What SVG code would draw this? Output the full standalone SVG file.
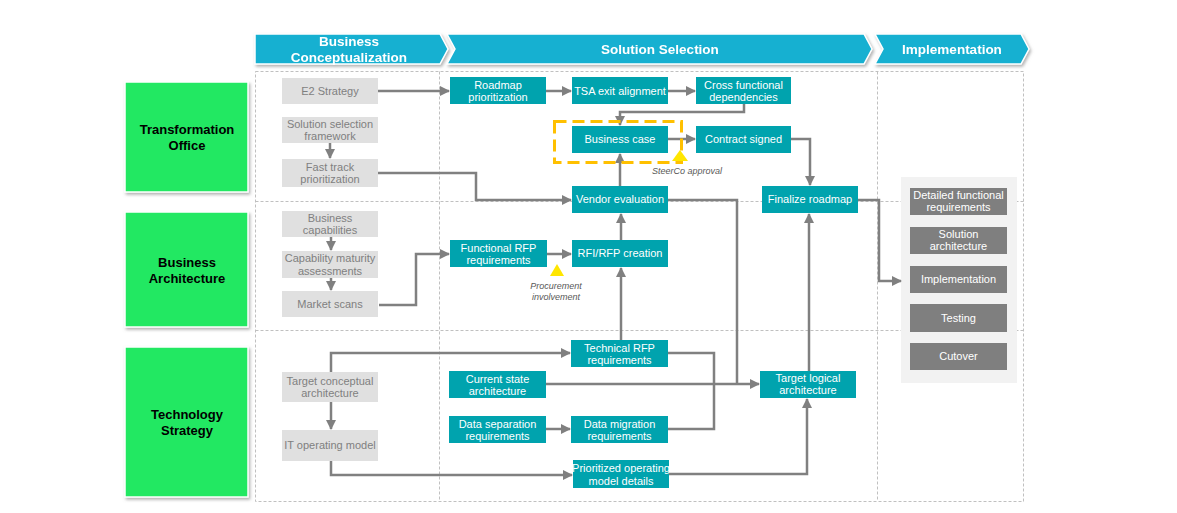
<svg xmlns="http://www.w3.org/2000/svg" width="1177" height="513" viewBox="0 0 1177 513">
<style>
text{font-family:"Liberation Sans",Arial,sans-serif;text-anchor:middle}
.hdr{fill:#19B0D1;stroke:#fff;stroke-width:1.5}
.ht{fill:#fff;font-size:13.5px;font-weight:bold}
.grn{fill:#22E862;stroke:#fff;stroke-width:1.5}
.gt{fill:#000;font-size:13px;font-weight:bold}
.gray{fill:#E0E0E0}
.grt{fill:#7F7F7F;font-size:11px}
.teal{fill:#00A3AE}
.tt{fill:#fff;font-size:11px}
.dark{fill:#7F7F7F}
.grid{fill:none;stroke:#C0C0C0;stroke-width:1;stroke-dasharray:3 2}
.c{fill:none;stroke:#808080;stroke-width:2.5}
.ca{fill:none;stroke:#808080;stroke-width:2.5;marker-end:url(#ah)}
.note{fill:#595959;font-size:9px;font-style:italic}
</style>
<defs>
<marker id="ah" viewBox="0 0 10 10" refX="9" refY="5" markerWidth="11" markerHeight="10" markerUnits="userSpaceOnUse" orient="auto"><path d="M0,0L10,5L0,10z" fill="#808080"/></marker>
<filter id="sh" x="-10%" y="-10%" width="130%" height="140%"><feDropShadow dx="1.5" dy="2" stdDeviation="1.5" flood-color="#808080" flood-opacity="0.6"/></filter>
</defs>
<rect width="1177" height="513" fill="#fff"/>

<g id="grid">
<rect class="grid" x="255.5" y="71.5" width="768" height="430"/>
<line class="grid" x1="439.5" y1="71.5" x2="439.5" y2="501.5"/>
<line class="grid" x1="877.5" y1="71.5" x2="877.5" y2="501.5"/>
<line class="grid" x1="255.5" y1="201.5" x2="1023.5" y2="201.5"/>
<line class="grid" x1="255.5" y1="330.5" x2="1023.5" y2="330.5"/>
</g>

<g id="header" filter="url(#sh)">
<g id="phase-bc"><path class="hdr" d="M255,34H440L448,49L440,64H255Z"/><text class="ht" x="349" y="46">Business</text><text class="ht" x="349" y="62">Conceptualization</text></g>
<g id="phase-ss"><path class="hdr" d="M447,34H864L872,49L864,64H447L455,49Z"/><text class="ht" x="660" y="54">Solution  Selection</text></g>
<g id="phase-impl"><path class="hdr" d="M875,34H1021L1029,49L1021,64H875L883,49Z"/><text class="ht" x="952" y="54">Implementation</text></g>
</g>

<g id="lanes">
<g id="lane-to"><rect class="grn" x="125" y="82" width="123" height="110" filter="url(#sh)"/><text class="gt" x="187" y="133.5">Transformation</text><text class="gt" x="187" y="149.5">Office</text></g>
<g id="lane-ba"><rect class="grn" x="125" y="212" width="123" height="115" filter="url(#sh)"/><text class="gt" x="187" y="266.5">Business</text><text class="gt" x="187" y="282.5">Architecture</text></g>
<g id="lane-ts"><rect class="grn" x="125" y="347" width="123" height="150" filter="url(#sh)"/><text class="gt" x="187" y="418.5">Technology</text><text class="gt" x="187" y="434.5">Strategy</text></g>
</g>

<g id="implementation-panel"><rect x="901" y="177" width="116" height="206" fill="#F2F2F2"/></g>

<g id="connectors">
<path class="ca" d="M378,91H449"/>
<path class="ca" d="M330,143V158"/>
<path class="ca" d="M378,173H476V200H571"/>
<path class="ca" d="M546,91H571"/>
<path class="ca" d="M668,91H695"/>
<path class="ca" d="M744,104V112H620V125"/>
<path class="ca" d="M668,139H695"/>
<path class="ca" d="M791,139H810V185"/>
<path class="ca" d="M620,186V154"/>
<path class="c" d="M668,200H737V384"/>
<path class="ca" d="M858,200H879V281H901"/>
<path class="ca" d="M331,237V250"/>
<path class="ca" d="M331,278V290"/>
<path class="ca" d="M379,305H416V254H449"/>
<path class="ca" d="M547,254H571"/>
<path class="ca" d="M621,240V214"/>
<path class="ca" d="M621,340V268"/>
<path class="ca" d="M331,372V353H570"/>
<path class="ca" d="M331,402V429"/>
<path class="ca" d="M546,384H759"/>
<path class="ca" d="M546,429H570"/>
<path class="c" d="M668,429H714V353H668"/>
<path class="ca" d="M331,461V475H572"/>
<path class="ca" d="M669,474H807V399"/>
<path class="ca" d="M809,371V214"/>
</g>

<g id="n-e2"><rect class="gray" x="282" y="78" width="96" height="26"/><text class="grt" x="330" y="95">E2 Strategy</text></g>
<g id="n-ssf"><rect class="gray" x="282" y="117" width="96" height="26"/><text class="grt" x="330" y="128">Solution selection</text><text class="grt" x="330" y="140">framework</text></g>
<g id="n-ftp"><rect class="gray" x="282" y="159" width="96" height="28"/><text class="grt" x="330" y="171">Fast track</text><text class="grt" x="330" y="183">prioritization</text></g>
<g id="n-bcap"><rect class="gray" x="282" y="211" width="96" height="26"/><text class="grt" x="330" y="222">Business</text><text class="grt" x="330" y="234">capabilities</text></g>
<g id="n-cma"><rect class="gray" x="282" y="251" width="96" height="27"/><text class="grt" x="330" y="262">Capability maturity</text><text class="grt" x="330" y="275">assessments</text></g>
<g id="n-ms"><rect class="gray" x="282" y="291" width="96" height="26"/><text class="grt" x="330" y="308">Market scans</text></g>
<g id="n-tca"><rect class="gray" x="282" y="372" width="96" height="30"/><text class="grt" x="330" y="385">Target conceptual</text><text class="grt" x="330" y="397">architecture</text></g>
<g id="n-itom"><rect class="gray" x="282" y="430" width="96" height="31"/><text class="grt" x="330" y="449">IT operating model</text></g>

<g id="n-rp"><rect class="teal" x="450" y="77" width="96" height="27"/><text class="tt" x="498" y="89">Roadmap</text><text class="tt" x="498" y="101">prioritization</text></g>
<g id="n-tsa"><rect class="teal" x="572" y="77" width="96" height="27"/><text class="tt" x="620" y="95">TSA exit alignment</text></g>
<g id="n-cfd"><rect class="teal" x="696" y="77" width="95" height="27"/><text class="tt" x="743.5" y="89">Cross functional</text><text class="tt" x="743.5" y="101">dependencies</text></g>
<g id="n-bc"><rect class="teal" x="572" y="126" width="96" height="27"/><text class="tt" x="620" y="143">Business case</text></g>
<g id="n-cs"><rect class="teal" x="696" y="126" width="95" height="27"/><text class="tt" x="743.5" y="143">Contract signed</text></g>
<g id="n-ve"><rect class="teal" x="572" y="186" width="96" height="27"/><text class="tt" x="620" y="203">Vendor evaluation</text></g>
<g id="n-fr"><rect class="teal" x="762" y="186" width="96" height="27"/><text class="tt" x="810" y="203">Finalize roadmap</text></g>
<g id="n-frfp"><rect class="teal" x="450" y="240" width="97" height="27"/><text class="tt" x="498.5" y="252">Functional RFP</text><text class="tt" x="498.5" y="264">requirements</text></g>
<g id="n-rfi"><rect class="teal" x="572" y="240" width="96" height="27"/><text class="tt" x="620" y="257">RFI/RFP creation</text></g>
<g id="n-trfp"><rect class="teal" x="571" y="340" width="97" height="27"/><text class="tt" x="619.5" y="352">Technical RFP</text><text class="tt" x="619.5" y="364">requirements</text></g>
<g id="n-csa"><rect class="teal" x="449" y="371" width="97" height="27"/><text class="tt" x="497.5" y="383">Current state</text><text class="tt" x="497.5" y="395">architecture</text></g>
<g id="n-tla"><rect class="teal" x="760" y="371" width="96" height="27"/><text class="tt" x="808" y="382">Target logical</text><text class="tt" x="808" y="394">architecture</text></g>
<g id="n-dsr"><rect class="teal" x="449" y="416" width="97" height="27"/><text class="tt" x="497.5" y="428">Data separation</text><text class="tt" x="497.5" y="440">requirements</text></g>
<g id="n-dmr"><rect class="teal" x="571" y="416" width="97" height="27"/><text class="tt" x="619.5" y="428">Data migration</text><text class="tt" x="619.5" y="440">requirements</text></g>
<g id="n-pomd"><rect class="teal" x="573" y="460" width="96" height="28"/><text class="tt" x="621" y="472">Prioritized operating</text><text class="tt" x="621" y="485">model details</text></g>

<g id="n-dfr"><rect class="dark" x="910" y="188" width="97" height="27"/><text class="tt" x="958.5" y="199">Detailed functional</text><text class="tt" x="958.5" y="211">requirements</text></g>
<g id="n-sa"><rect class="dark" x="910" y="227" width="97" height="27"/><text class="tt" x="958.5" y="238">Solution</text><text class="tt" x="958.5" y="250">architecture</text></g>
<g id="n-impl"><rect class="dark" x="910" y="266" width="97" height="27"/><text class="tt" x="958.5" y="283">Implementation</text></g>
<g id="n-test"><rect class="dark" x="910" y="304" width="97" height="28"/><text class="tt" x="958.5" y="322">Testing</text></g>
<g id="n-cut"><rect class="dark" x="910" y="343" width="97" height="27"/><text class="tt" x="958.5" y="360">Cutover</text></g>

<g id="annotations">
<rect x="554.5" y="121.5" width="127" height="41" fill="none" stroke="#FFC000" stroke-width="3" stroke-dasharray="12 6"/>
<path d="M680,150L688,161H672Z" fill="#FFE600"/>
<text class="note" x="687" y="174">SteerCo approval</text>
<path d="M557,264L564,276H550Z" fill="#FFE600"/>
<text class="note" x="556" y="289">Procurement</text>
<text class="note" x="556" y="300">involvement</text>
</g>
</svg>
